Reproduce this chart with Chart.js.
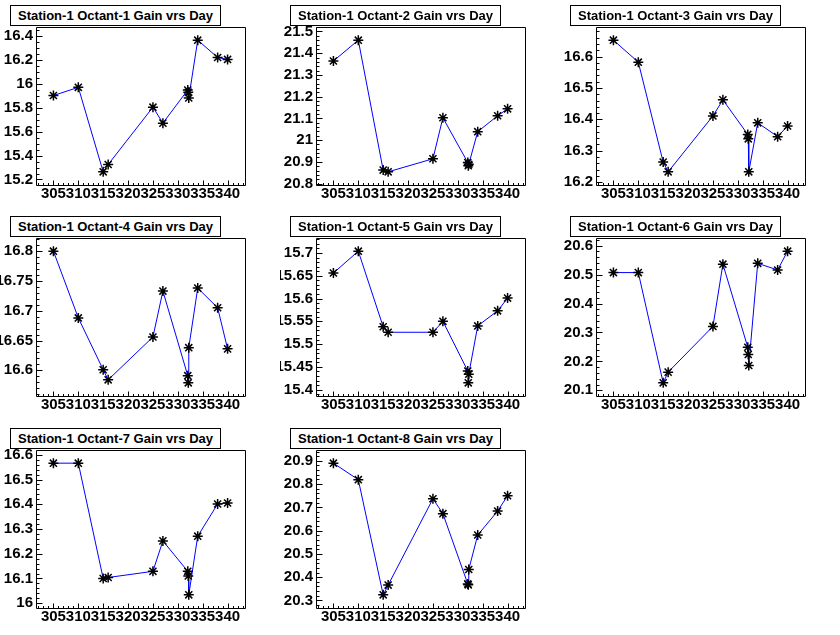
<!DOCTYPE html>
<html>
<head>
<meta charset="utf-8">
<script src="https://cdn.jsdelivr.net/npm/chart.js@4"></script>
<style>
  html, body { margin: 0; padding: 0; background: #fff; }
  #wrap { position: relative; width: 840px; height: 635px; overflow: hidden; background: #fff; }
  .pad { position: absolute; width: 280px; height: 212px; }
  .pad canvas { position: absolute; left: 0; top: 0; }
  .ttl { position: absolute; left: 10px; top: 5px; width: 209px; height: 19px;
         border: 1px solid #000; background: #fff; box-sizing: content-box;
         font: bold 13px "Liberation Sans", Arial, Helvetica, sans-serif; color: #000;
         line-height: 19px; padding-left: 0; text-indent: 7px; white-space: nowrap; z-index: 2; }
</style>
</head>
<body>
<div id="wrap"></div>
<script>
// ---- data ----
const titles = [
  "Station-1 Octant-1 Gain vrs Day",
  "Station-1 Octant-2 Gain vrs Day",
  "Station-1 Octant-3 Gain vrs Day",
  "Station-1 Octant-4 Gain vrs Day",
  "Station-1 Octant-5 Gain vrs Day",
  "Station-1 Octant-6 Gain vrs Day",
  "Station-1 Octant-7 Gain vrs Day",
  "Station-1 Octant-8 Gain vrs Day"
];
const days = [305, 310, 315, 316, 325, 327, 332, 332.1, 332.2, 334, 338, 340];
const gainOctant1 = [15.903, 15.972, 15.264, 15.325, 15.806, 15.672, 15.950, 15.930, 15.883, 16.367, 16.222, 16.206];
const gainOctant2 = [21.364, 21.460, 20.862, 20.854, 20.914, 21.103, 20.897, 20.882, 20.889, 21.039, 21.112, 21.144];
const gainOctant3 = [16.652, 16.582, 16.264, 16.233, 16.411, 16.462, 16.352, 16.338, 16.233, 16.389, 16.345, 16.379];
const gainOctant4 = [16.800, 16.688, 16.601, 16.584, 16.656, 16.733, 16.591, 16.579, 16.638, 16.738, 16.705, 16.636];
const gainOctant5 = [15.656, 15.704, 15.538, 15.526, 15.526, 15.550, 15.441, 15.415, 15.434, 15.540, 15.573, 15.601];
const gainOctant6 = [20.507, 20.507, 20.126, 20.163, 20.321, 20.536, 20.249, 20.224, 20.186, 20.539, 20.516, 20.581];
const gainOctant7 = [16.566, 16.566, 16.100, 16.104, 16.129, 16.252, 16.129, 16.110, 16.034, 16.271, 16.401, 16.405];
const gainOctant8 = [20.890, 20.819, 20.324, 20.366, 20.737, 20.673, 20.371, 20.367, 20.433, 20.581, 20.684, 20.750];
const gains = [gainOctant1, gainOctant2, gainOctant3, gainOctant4, gainOctant5, gainOctant6, gainOctant7, gainOctant8];
const xTickLabels = [305, 310, 315, 320, 325, 330, 335, 340];
const xMinorStep = 1;
const yMajorSteps = [0.2, 0.1, 0.1, 0.05, 0.05, 0.1, 0.1, 0.1];
const yMinorSteps = [0.05, 0.02, 0.02, 0.01, 0.01, 0.02, 0.02, 0.02];

// ---- layout ----
const PAD_W = 280, PAD_H = 212;
const padLeft = [0, 280, 560];
const padTop = [0, 211, 423];
const FONT = '"Liberation Sans", Arial, Helvetica, sans-serif';

function fmt(v) { return String(parseFloat(v.toFixed(4))); }

const rootFrame = {
  id: 'rootFrame',
  afterDraw(chart, args, opts) {
    const ctx = chart.ctx, a = chart.chartArea;
    const xs = chart.scales.x, ys = chart.scales.y;
    ctx.save();
    ctx.strokeStyle = '#000';
    ctx.lineWidth = 1;
    ctx.beginPath();
    ctx.rect(Math.round(a.left) + 0.5, Math.round(a.top) + 0.5,
             Math.round(a.right - a.left), Math.round(a.bottom - a.top));
    ctx.stroke();
    ctx.beginPath();
    const bottom = Math.round(a.bottom) + 0.5, left = Math.round(a.left) + 0.5;
    // x ticks (inward from bottom)
    const xMajor = new Set(xs.ticks.map(t => t.value));
    for (let v = Math.ceil(xs.min / xMinorStep) * xMinorStep; v <= xs.max + 1e-9; v += xMinorStep) {
      const px = Math.round(xs.getPixelForValue(v)) + 0.5;
      const len = xMajor.has(Math.round(v)) ? 5 : 2.5;
      ctx.moveTo(px, bottom); ctx.lineTo(px, bottom - len);
    }
    // y ticks (inward from left)
    const ms = opts.minor, mj = opts.major;
    for (let k = Math.ceil(ys.min / ms - 1e-6); k * ms <= ys.max + 1e-9; k++) {
      const v = k * ms;
      const py = Math.round(ys.getPixelForValue(v)) + 0.5;
      const r = v / mj;
      const isMajor = Math.abs(r - Math.round(r)) < 1e-6;
      const len = isMajor ? 6 : 3;
      ctx.moveTo(left, py); ctx.lineTo(left + len, py);
    }
    ctx.stroke();
    ctx.restore();
  }
};

const wrap = document.getElementById('wrap');
gains.forEach((vals, i) => {
  const col = i % 3, row = Math.floor(i / 3);
  const pad = document.createElement('div');
  pad.className = 'pad';
  pad.style.left = padLeft[col] + 'px';
  pad.style.top = padTop[row] + 'px';
  const cv = document.createElement('canvas');
  cv.width = PAD_W; cv.height = PAD_H;
  cv.style.width = PAD_W + 'px'; cv.style.height = PAD_H + 'px';
  pad.appendChild(cv);
  const t = document.createElement('div');
  t.className = 'ttl';
  t.textContent = titles[i];
  pad.appendChild(t);
  wrap.appendChild(pad);

  // ROOT-style automatic range: data extent plus 10% on each side
  const xmin = Math.min(...days), xmax = Math.max(...days);
  const ymin = Math.min(...vals), ymax = Math.max(...vals);
  const dx = (xmax - xmin) * 0.1, dy = (ymax - ymin) * 0.1;
  const step = yMajorSteps[i];

  new Chart(cv, {
    type: 'scatter',
    data: {
      datasets: [{
        data: days.map((d, k) => ({ x: d, y: vals[k] })),
        showLine: true,
        borderColor: '#0000ff',
        borderWidth: 1,
        tension: 0,
        pointStyle: 'star',
        pointRadius: 5,
        pointBorderColor: '#000',
        pointBackgroundColor: '#000',
        pointBorderWidth: 1.5
      }]
    },
    options: {
      responsive: false,
      animation: false,
      devicePixelRatio: 1,
      layout: { padding: { left: 0, top: 27, right: 35, bottom: 0 } },
      plugins: { legend: { display: false }, tooltip: { enabled: false },
                 rootFrame: { major: step, minor: yMinorSteps[i] } },
      scales: {
        x: {
          type: 'linear',
          min: xmin - dx, max: xmax + dx,
          grid: { display: false, drawTicks: false },
          border: { display: false },
          afterBuildTicks: s => { s.ticks = xTickLabels.map(v => ({ value: v })); },
          afterFit: s => { s.height = 27; },
          ticks: {
            autoSkip: false, maxRotation: 0, minRotation: 0, padding: 0,
            color: '#000', font: { family: FONT, size: 15, weight: 'bold' },
            callback: v => String(v)
          }
        },
        y: {
          type: 'linear',
          min: ymin - dy, max: ymax + dy,
          grid: { display: false, drawTicks: false },
          border: { display: false },
          afterBuildTicks: s => {
            const tk = [];
            for (let k = Math.ceil(s.min / step - 1e-6); k * step <= s.max + 1e-9; k++) tk.push({ value: k * step });
            s.ticks = tk;
          },
          afterFit: s => { s.width = 36; },
          ticks: {
            autoSkip: false, padding: 3,
            color: '#000', font: { family: FONT, size: 15, weight: 'bold' },
            callback: v => fmt(v)
          }
        }
      }
    },
    plugins: [rootFrame]
  });
});
</script>
</body>
</html>
